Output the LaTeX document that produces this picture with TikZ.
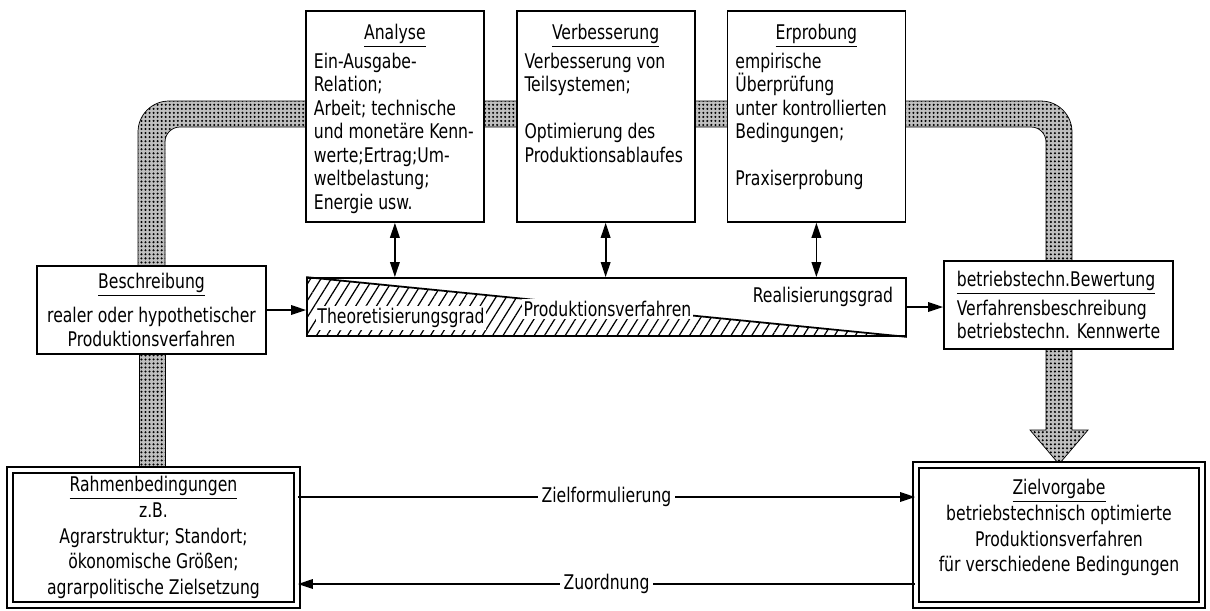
\documentclass[tikz,border=0pt]{standalone}
\usepackage{fontspec}
\setmainfont{DejaVu Sans Condensed}[FakeStretch=0.86]
\usetikzlibrary{positioning,patterns,patterns.meta,arrows.meta,backgrounds}

\begin{document}
\begin{tikzpicture}[font=\fontsize{11.5}{13.4}\selectfont, line width=1pt,
			>={Triangle[length=3mm,width=1.9mm]},
			stage/.style = {draw, fill=white, anchor=north west, inner xsep=1.6mm, inner ysep=1.2mm},
			info/.style = {draw, fill=white, inner sep=0pt, minimum width=4.58cm, minimum height=1.76cm},
			goal/.style = {draw, fill=white, double, double distance=2.6pt, align=center, inner sep=0pt,
				font=\fontsize{11.5}{14.6}\selectfont},
			pipe/.style = {draw, preaction={fill=gray!50}, pattern={Dots[distance=2.3pt,radius=0.65pt]}},
			lbl/.style = {fill=white, inner sep=2pt}]
			\useasboundingbox (0,0) rectangle (24.2,-12.2);
			\node[stage] (ana) at (6.10,-0.20) {\parbox[t][3.98cm][t]{3.24cm}{\vspace*{4pt}\centering\underline{Analyse}\par\vspace{3pt}\raggedright
				Ein-Ausgabe-\\Relation;\\Arbeit; technische\\und monetäre Kenn-\\werte;Ertrag;Um-\\weltbelastung;\\Energie usw.}};
			\node[stage] (verb) [right=6.2mm of ana] {\parbox[t][3.98cm][t]{3.24cm}{\vspace*{4pt}\centering\underline{Verbesserung}\par\vspace{3pt}\raggedright
				Verbesserung von\\Teilsystemen;\\[13.4pt]Optimierung des\\Produktionsablaufes}};
			\node[stage] (erp) [right=6.2mm of verb] {\parbox[t][3.98cm][t]{3.24cm}{\vspace*{4pt}\centering\underline{Erprobung}\par\vspace{3pt}\raggedright
				empirische\\Überprüfung\\unter kontrollierten\\Bedingungen;\\[13.4pt]Praxiserprobung}};
			\node[info, align=center] (besch) at (3.03,-6.20) {\underline{Beschreibung}\\[6pt]realer oder hypothetischer\\Produktionsverfahren};
			\node[info, align=left] (bew) at (21.17,-6.10) {\underline{betriebstechn.Bewertung}\\[3pt]Verfahrensbeschreibung\\betriebstechn. Kennwerte};
			\node[draw, minimum width=11.98cm, minimum height=1.16cm, inner sep=0pt] (bar) at (12.13,-6.14) {};
			\fill[pattern={Lines[angle=58,distance=5pt,line width=0.7pt]}] (bar.north west) -- (bar.south east) -- (bar.south west) -- cycle;
			\draw (bar.north west) -- (bar.south east);
			\node[fill=white, inner sep=1pt] (theo) at (8.02,-6.36) {Theoretisierungsgrad};
			\node[fill=white, inner sep=1pt] (prod) at (12.15,-6.18) {Produktionsverfahren};
			\node[inner sep=1pt] (real) at (16.46,-5.94) {Realisierungsgrad};
			\node[goal, minimum width=5.74cm, minimum height=2.70cm] (rahmen) at (3.07,-10.75) {\underline{Rahmenbedingungen}\\z.B.\\Agrarstruktur; Standort;\\ökonomische Größen;\\agrarpolitische Zielsetzung};
			\node[goal, minimum width=5.72cm, minimum height=2.80cm] (ziel) at (21.18,-10.70) {\underline{Zielvorgabe}\\betriebstechnisch optimierte\\Produktionsverfahren\\für verschiedene Bedingungen\\[-4pt]};
			% pipes
			\begin{scope}[on background layer]
				\filldraw[pipe] (2.76,-6.4) [rounded corners=0.62cm] -- (2.76,-2.02) -- (21.44,-2.02) -- (21.44,-6.3) [rounded corners=0.3cm] -- (20.92,-6.3) -- (20.92,-2.54) -- (3.30,-2.54) -- (3.30,-6.4) -- cycle;
				\filldraw[pipe] (2.78,-6.8) rectangle (3.30,-9.8);
				\filldraw[pipe] (20.92,-6.6) -- (20.92,-8.6) -- (20.60,-8.6) -- (ziel.north) -- (21.76,-8.6) -- (21.44,-8.6) -- (21.44,-6.6) -- cycle;
			\end{scope}
			\draw[<->] (ana.south) -- (ana.south |- bar.north);
			\draw[<->] (verb.south) -- (verb.south |- bar.north);
			\draw[<->] (erp.south) -- (erp.south |- bar.north);
			\draw[->] (besch.east) -- (besch.east -| bar.west);
			\draw[->] (bar.east) -- (bar.east -| bew.west);
			\draw[->] ([yshift=8.1mm]rahmen.east) -- node[lbl] {Zielformulierung} ([yshift=8.1mm]rahmen.east -| ziel.west);
			\draw[->] ([yshift=-9.3mm]rahmen.east -| ziel.west) -- node[lbl] {Zuordnung} ([yshift=-9.3mm]rahmen.east);
		\end{tikzpicture}
\end{document}
